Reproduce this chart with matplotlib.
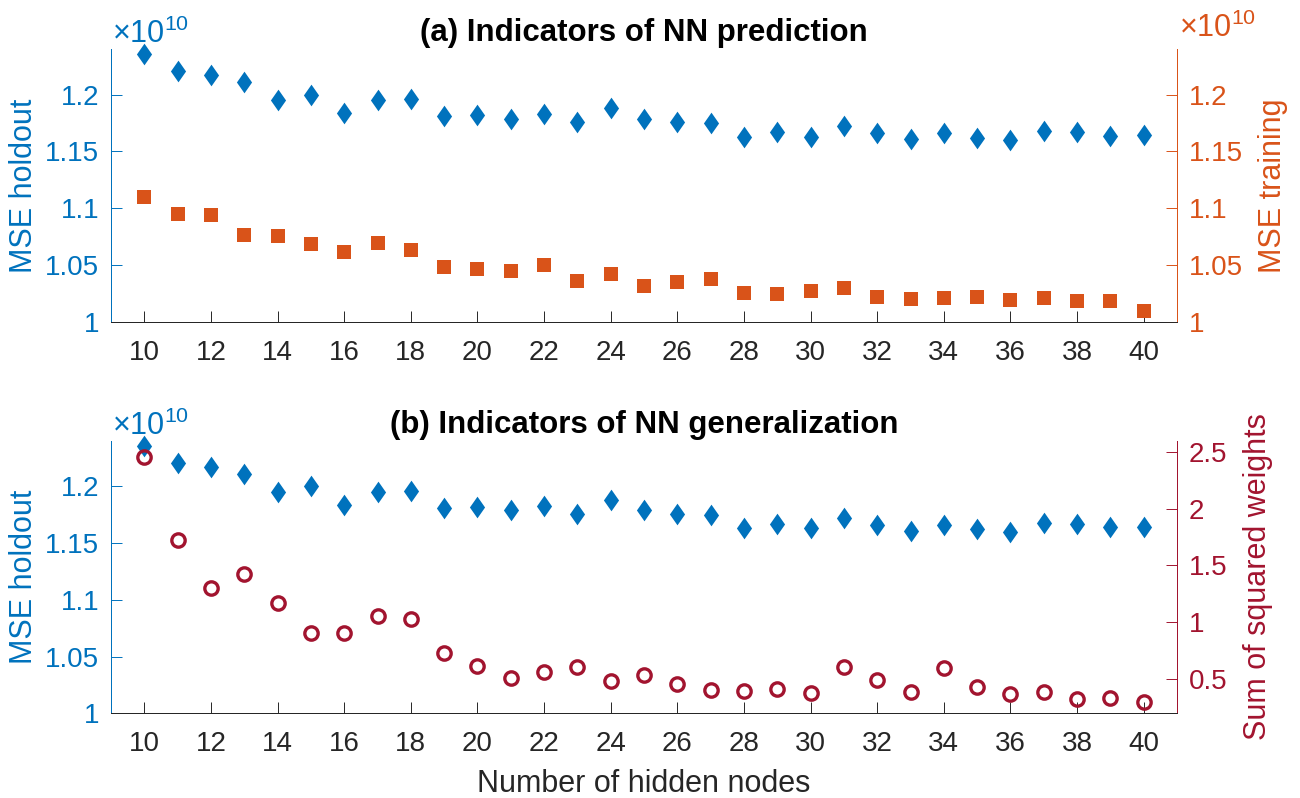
import numpy as np
import matplotlib
matplotlib.use("Agg")
import matplotlib.pyplot as plt
from matplotlib.path import Path

plt.rcParams['font.family'] = ['Liberation Sans', 'DejaVu Sans']
plt.rcParams['mathtext.fontset'] = 'custom'
plt.rcParams['mathtext.rm'] = 'Liberation Sans'
plt.rcParams['mathtext.it'] = 'Liberation Sans'

# ---------------- data ----------------
hidden_nodes = list(range(10, 41))
# MSE holdout (x 1e10)
mse_holdout = [1.236, 1.221, 1.217, 1.211, 1.195, 1.200, 1.184, 1.195, 1.196, 1.181,
               1.182, 1.179, 1.183, 1.176, 1.188, 1.179, 1.176, 1.175, 1.163, 1.167,
               1.163, 1.172, 1.166, 1.161, 1.166, 1.162, 1.160, 1.168, 1.167, 1.164,
               1.1645]
# MSE training (x 1e10)
mse_training = [1.110, 1.095, 1.0944, 1.0765, 1.0754, 1.0683, 1.0616, 1.0692, 1.0636, 1.0478,
                1.046, 1.0446, 1.050, 1.036, 1.042, 1.0317, 1.035, 1.038, 1.025, 1.024,
                1.027, 1.030, 1.0217, 1.020, 1.0205, 1.0217, 1.0194, 1.0208, 1.018, 1.018,
                1.009]
# Sum of squared weights
sum_sq_weights = [2.456, 1.721, 1.305, 1.428, 1.171, 0.904, 0.904, 1.059, 1.027, 0.734,
                  0.614, 0.512, 0.561, 0.608, 0.488, 0.538, 0.456, 0.409, 0.398, 0.412,
                  0.377, 0.605, 0.494, 0.386, 0.594, 0.427, 0.374, 0.389, 0.327, 0.333,
                  0.30]

mse_ticks = [1, 1.05, 1.1, 1.15, 1.2]
mse_ticklabels = ['1', '1.05', '1.1', '1.15', '1.2']
ssw_ticks = [0.5, 1, 1.5, 2, 2.5]
ssw_ticklabels = ['0.5', '1', '1.5', '2', '2.5']
x_ticks = list(range(10, 41, 2))

title_a = '(a) Indicators of NN prediction'
title_b = '(b) Indicators of NN generalization'
xlabel = 'Number of hidden nodes'
ylabel_holdout = 'MSE holdout'
ylabel_training = 'MSE training'
ylabel_ssw = 'Sum of squared weights'
exp_text = r'$\times10^{10}$'

# ---------------- style ----------------
BLUE = '#0072BD'
ORANGE = '#D95319'
DRED = '#A2142F'
AXGRAY = '#262626'
FS = 20
LFS = 22
W, H = 1300, 798

diamond = Path([(0, 0.5), (0.35, 0), (0, -0.5), (-0.35, 0), (0, 0.5)],
               [Path.MOVETO, Path.LINETO, Path.LINETO, Path.LINETO, Path.CLOSEPOLY])

fig = plt.figure(figsize=(W / 100, H / 100), dpi=100)

ax_left_px, ax_right_px = 111, 1177
panels = [(49.3, 321.7), (441.0, 713.3)]


def make_axes(top_px, bot_px):
    return fig.add_axes([ax_left_px / W, (H - bot_px) / H,
                         (ax_right_px - ax_left_px) / W, (bot_px - top_px) / H])


def style_common(ax, lcolor, rcolor):
    ax.spines['top'].set_visible(False)
    ax.spines['left'].set_color(lcolor)
    ax.spines['right'].set_color(rcolor)
    ax.spines['bottom'].set_color(AXGRAY)
    for s in ax.spines.values():
        s.set_linewidth(0.7)


for i, (tp, bp) in enumerate(panels):
    ax = make_axes(tp, bp)
    ax.plot(hidden_nodes, mse_holdout, linestyle='none', marker=diamond,
            markersize=15.6, color=BLUE, markeredgewidth=0, clip_on=False)
    ax.set_xlim(9, 41)
    ax.set_ylim(1, 1.24)
    ax.set_xticks(x_ticks)
    ax.set_xticklabels([str(t) for t in x_ticks])
    ax.set_yticks(mse_ticks)
    ax.set_yticklabels(mse_ticklabels)
    ax.tick_params(axis='x', direction='in', length=7.7, width=0.7, color=AXGRAY,
                   labelcolor=AXGRAY, labelsize=FS, pad=13, top=False)
    ax.tick_params(axis='y', direction='in', length=7.7, width=0.7, color=BLUE,
                   labelcolor=BLUE, labelsize=FS, pad=8.3, right=False)
    axr = ax.twinx()
    axr.set_xlim(9, 41)
    if i == 0:
        axr.plot(hidden_nodes, mse_training, linestyle='none', marker='s',
                 markersize=10.6, color=ORANGE, markeredgewidth=0, clip_on=False)
        axr.set_ylim(1, 1.24)
        axr.set_yticks(mse_ticks)
        axr.set_yticklabels(mse_ticklabels)
        rc = ORANGE
    else:
        axr.plot(hidden_nodes, sum_sq_weights, linestyle='none', marker='o',
                 markersize=9.6, markerfacecolor='none', markeredgecolor=DRED,
                 markeredgewidth=2.4, clip_on=False)
        axr.set_ylim(0.2, 2.594)
        axr.set_yticks(ssw_ticks)
        axr.set_yticklabels(ssw_ticklabels)
        rc = DRED
    axr.tick_params(axis='y', direction='in', length=7.7, width=0.7, color=rc,
                    labelcolor=rc, labelsize=FS, pad=8.6)
    style_common(ax, BLUE, rc)
    style_common(axr, BLUE, rc)

# titles
title_family = ['Liberation Sans Narrow', 'Liberation Sans']
fig.text(644 / W, 1 - 40.7 / H, title_a, ha='center', va='baseline', fontsize=22.5,
         fontweight='bold', family=title_family)
fig.text(644 / W, 1 - 433.3 / H, title_b, ha='center', va='baseline', fontsize=22.5,
         fontweight='bold', family=title_family)

# exponent texts
EFS = 22
fig.text(112 / W, 1 - 43.3 / H, exp_text, ha='left', va='baseline', fontsize=EFS, color=BLUE)
fig.text(112 / W, 1 - 435.0 / H, exp_text, ha='left', va='baseline', fontsize=EFS, color=BLUE)
fig.text(1179 / W, 1 - 36.7 / H, exp_text, ha='left', va='baseline', fontsize=EFS, color=ORANGE)

# y labels
fig.text(24 / W, 1 - 185.5 / H, ylabel_holdout, rotation=90, ha='center', va='center',
         fontsize=LFS, color=BLUE)
fig.text(24 / W, 1 - 577.0 / H, ylabel_holdout, rotation=90, ha='center', va='center',
         fontsize=LFS, color=BLUE)
fig.text(1273.5 / W, 1 - 185.5 / H, ylabel_training, rotation=90, ha='center', va='center',
         fontsize=LFS, color=ORANGE)
fig.text(1258 / W, 1 - 577.0 / H, ylabel_ssw, rotation=90, ha='center', va='center',
         fontsize=LFS, color=DRED)

# x label
fig.text(644 / W, 1 - 792.3 / H, xlabel, ha='center', va='baseline', fontsize=LFS,
         color=AXGRAY)

fig.savefig('out.png', dpi=100)
